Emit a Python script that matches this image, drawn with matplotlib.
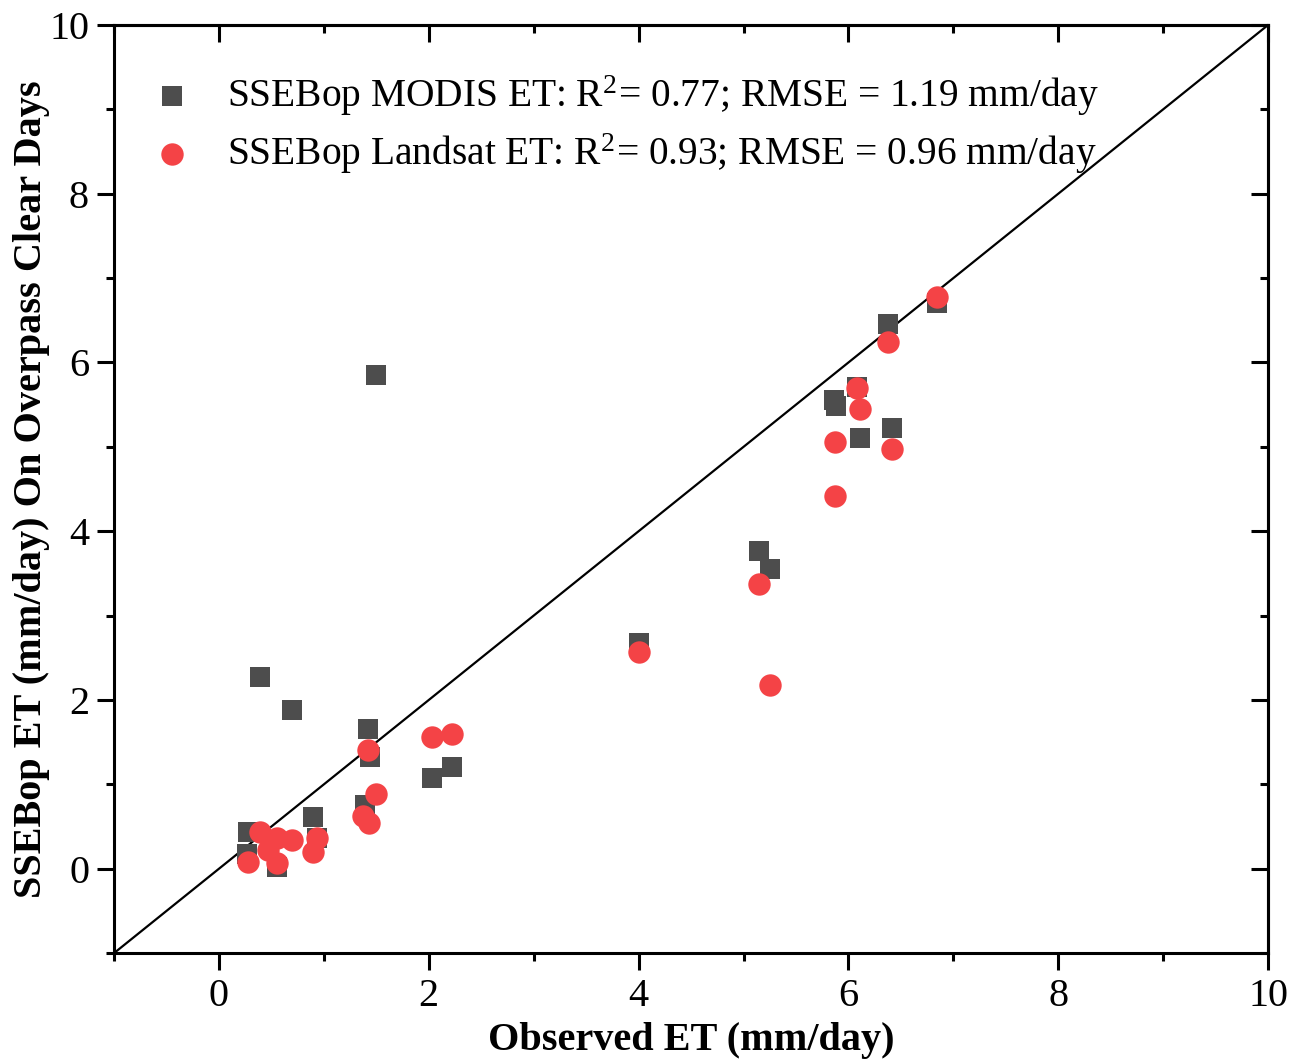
import numpy as np
import matplotlib
matplotlib.use('Agg')
import matplotlib.pyplot as plt
from matplotlib.ticker import MultipleLocator

plt.rcParams['font.family'] = ['Liberation Serif', 'DejaVu Serif']
plt.rcParams['mathtext.fontset'] = 'stix'

# SSEBop MODIS ET (observed, modelled)
modis_obs = [0.28, 0.27, 0.39, 0.55, 0.70, 0.90, 0.93, 1.39, 1.42, 1.44, 1.50, 2.03, 2.22,
             4.00, 5.15, 5.25, 5.86, 5.88, 6.08, 6.11, 6.42, 6.38, 6.84]
modis_et = [0.44, 0.17, 2.27, 0.02, 1.88, 0.61, 0.37, 0.75, 1.66, 1.33, 5.85, 1.07, 1.21,
            2.68, 3.77, 3.55, 5.55, 5.49, 5.71, 5.11, 5.22, 6.46, 6.71]

# SSEBop Landsat ET (observed, modelled)
landsat_obs = [0.28, 0.39, 0.47, 0.55, 0.55, 0.70, 0.90, 0.93, 1.37, 1.42, 1.43, 1.50, 2.03, 2.22,
               4.00, 5.15, 5.25, 5.87, 5.87, 6.08, 6.11, 6.42, 6.38, 6.84]
landsat_et = [0.08, 0.44, 0.22, 0.37, 0.07, 0.34, 0.20, 0.37, 0.63, 1.41, 0.54, 0.88, 1.56, 1.60,
              2.57, 3.38, 2.18, 5.06, 4.42, 5.70, 5.45, 4.97, 6.24, 6.78]

label_modis = 'SSEBop MODIS ET: R$^\\mathregular{2}$= 0.77; RMSE = 1.19 mm/day'
label_landsat = 'SSEBop Landsat ET: R$^\\mathregular{2}$= 0.93; RMSE = 0.96 mm/day'

fig = plt.figure(figsize=(13.05, 10.59), dpi=100)
ax = fig.add_axes([0.0874, 0.100, 0.8843, 0.8764])

ax.plot([-1, 10], [-1, 10], color='black', lw=1.6, zorder=1)
ax.scatter(modis_obs, modis_et, marker='s', s=210, color='#4d4d4d', lw=0, label=label_modis, zorder=2)
ax.scatter(landsat_obs, landsat_et, marker='o', s=260, color='#f44346', lw=0, label=label_landsat, zorder=3)

ax.set_xlim(-1, 10)
ax.set_ylim(-1, 10)
ax.xaxis.set_major_locator(MultipleLocator(2))
ax.xaxis.set_minor_locator(MultipleLocator(1))
ax.yaxis.set_major_locator(MultipleLocator(2))
ax.yaxis.set_minor_locator(MultipleLocator(1))

for s in ax.spines.values():
    s.set_linewidth(2.2)

ax.tick_params(which='both', direction='out', width=2.2, labelsize=29, top=False, right=False)
ax.tick_params(which='major', length=12, pad=6)
ax.tick_params(which='minor', length=6)

# inward ticks on top and right
sec_x = ax.secondary_xaxis('top')
sec_x.xaxis.set_major_locator(MultipleLocator(2))
sec_x.xaxis.set_minor_locator(MultipleLocator(1))
sec_x.tick_params(which='both', direction='in', width=2.2, labeltop=False)
sec_x.tick_params(which='major', length=12)
sec_x.tick_params(which='minor', length=6)
sec_y = ax.secondary_yaxis('right')
sec_y.yaxis.set_major_locator(MultipleLocator(2))
sec_y.yaxis.set_minor_locator(MultipleLocator(1))
sec_y.tick_params(which='both', direction='in', width=2.2, labelright=False)
sec_y.tick_params(which='major', length=12)
sec_y.tick_params(which='minor', length=6)
for sec in (sec_x, sec_y):
    for s in sec.spines.values():
        s.set_linewidth(2.2)

ax.set_xlabel('Observed ET (mm/day)', fontsize=29, fontweight='bold', labelpad=5)
ax.set_ylabel('SSEBop ET (mm/day) On Overpass Clear Days', fontsize=29, fontweight='bold', labelpad=-1)

ax.legend(loc='upper left', bbox_to_anchor=(-0.008, 0.978), frameon=False, fontsize=28.4,
          handletextpad=0.4, labelspacing=0.33, borderaxespad=0.3)

fig.savefig('out.png', dpi=100)
